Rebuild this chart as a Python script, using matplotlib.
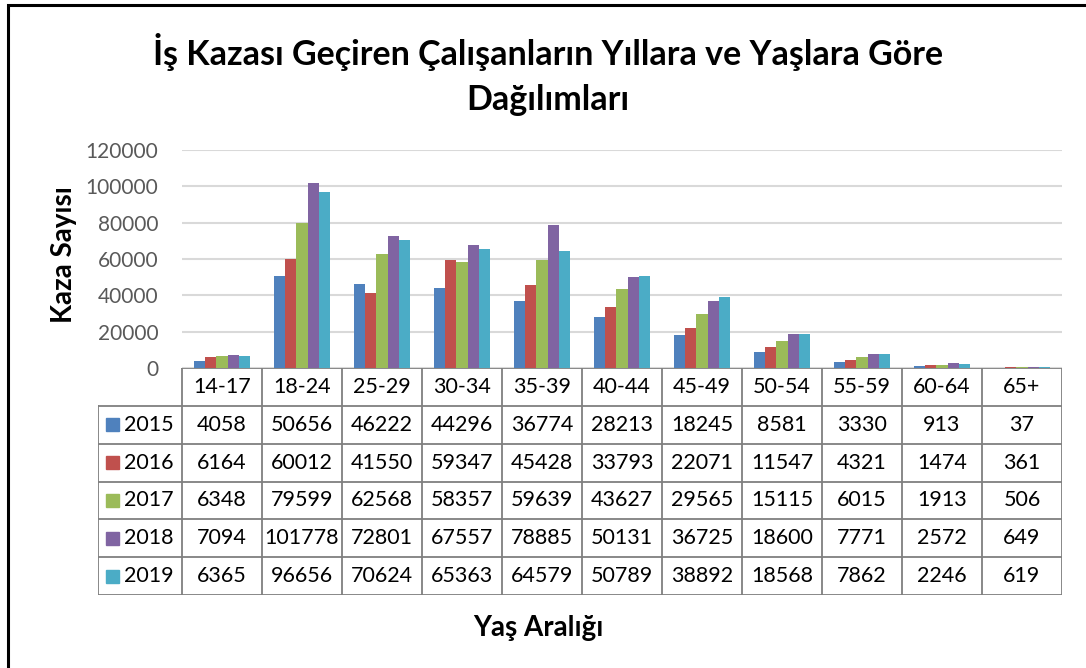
import matplotlib
matplotlib.use("Agg")
import matplotlib.pyplot as plt
from matplotlib.patches import Rectangle
import numpy as np

plt.rcParams['font.family'] = ['Lato', 'DejaVu Sans']

categories = ["14-17", "18-24", "25-29", "30-34", "35-39", "40-44", "45-49", "50-54", "55-59", "60-64", "65+"]
years = ["2015", "2016", "2017", "2018", "2019"]
v2015 = [4058, 50656, 46222, 44296, 36774, 28213, 18245, 8581, 3330, 913, 37]
v2016 = [6164, 60012, 41550, 59347, 45428, 33793, 22071, 11547, 4321, 1474, 361]
v2017 = [6348, 79599, 62568, 58357, 59639, 43627, 29565, 15115, 6015, 1913, 506]
v2018 = [7094, 101778, 72801, 67557, 78885, 50131, 36725, 18600, 7771, 2572, 649]
v2019 = [6365, 96656, 70624, 65363, 64579, 50789, 38892, 18568, 7862, 2246, 619]
series = [v2015, v2016, v2017, v2018, v2019]
colors = ["#4F81BD", "#C0504D", "#9BBB59", "#8064A2", "#4BACC6"]
yticks = [0, 20000, 40000, 60000, 80000, 100000, 120000]

W, H = 1086, 668
fig = plt.figure(figsize=(W / 100, H / 100), dpi=100)

def frac(x0, y0, x1, y1):
    return [x0 / W, 1 - y1 / H, (x1 - x0) / W, (y1 - y0) / H]

# outer frame
fig.add_artist(Rectangle((8 / W, -0.05), 1.1, 1 - 5 / H + 0.05, transform=fig.transFigure,
                         fill=False, edgecolor="black", linewidth=2.2))

# main chart axes
ax = fig.add_axes(frac(182, 150, 1062, 368))
n = len(categories)
x = np.arange(n)
bw = 0.14
for i, (vals, c) in enumerate(zip(series, colors)):
    ax.bar(x + (i - 2) * bw, vals, width=bw, color=c, linewidth=0)
ax.set_xlim(-0.5, n - 0.5)
ax.set_ylim(0, 120000)
ax.set_yticks(yticks)
ax.set_yticklabels([str(t) for t in yticks], fontsize=15, color="#595959")
ax.tick_params(axis="y", length=0, pad=17)
ax.set_xticks([])
for s in ax.spines.values():
    s.set_visible(False)
ax.grid(axis="y", color="#D9D9D9", linewidth=1.5)
ax.set_axisbelow(True)

# data table
left_px = 98
x_left = -0.5 - (182 - left_px) / 80.0
tax = fig.add_axes(frac(left_px, 368, 1062, 595))
tax.set_xlim(x_left, n - 0.5)
tax.set_ylim(6, 0)
tax.axis("off")
lc = "#7F7F7F"
lw = 1.3
fs = 15.5
# horizontal lines
tax.plot([-0.5, n - 0.5], [0, 0], color=lc, lw=lw)
for r in range(1, 7):
    tax.plot([x_left, n - 0.5], [r, r], color=lc, lw=lw)
# vertical lines
tax.plot([x_left, x_left], [1, 6], color=lc, lw=lw)
for cidx in range(n + 1):
    tax.plot([cidx - 0.5, cidx - 0.5], [0, 6], color=lc, lw=lw)
for cidx, cat in enumerate(categories):
    tax.text(cidx, 0.5, cat, ha="center", va="center", fontsize=fs, color="black")
for r, (yr, vals, c) in enumerate(zip(years, series, colors)):
    yy = r + 1.5
    tax.add_patch(Rectangle((x_left + 0.1, yy - 0.17), 0.16, 0.34, color=c, clip_on=False))
    tax.text(x_left + 0.32, yy, yr, ha="left", va="center", fontsize=fs, color="black")
    for cidx, v in enumerate(vals):
        tax.text(cidx, yy, str(v), ha="center", va="center", fontsize=fs, color="black")

# titles and labels
fig.text(548 / W, 1 - 52 / H, "İş Kazası Geçiren Çalışanların Yıllara ve Yaşlara Göre",
         ha="center", va="center", fontsize=24.5, fontweight="bold")
fig.text(548 / W, 1 - 100 / H, "Dağılımları", ha="center", va="center", fontsize=24.5, fontweight="bold")
fig.text(64 / W, 1 - 255 / H, "Kaza Sayısı", rotation=90, ha="center", va="center",
         fontsize=20, fontweight="bold")
fig.text(538 / W, 1 - 628 / H, "Yaş Aralığı", ha="center", va="center", fontsize=20, fontweight="bold")

fig.savefig("out.png", dpi=100, facecolor="white")
